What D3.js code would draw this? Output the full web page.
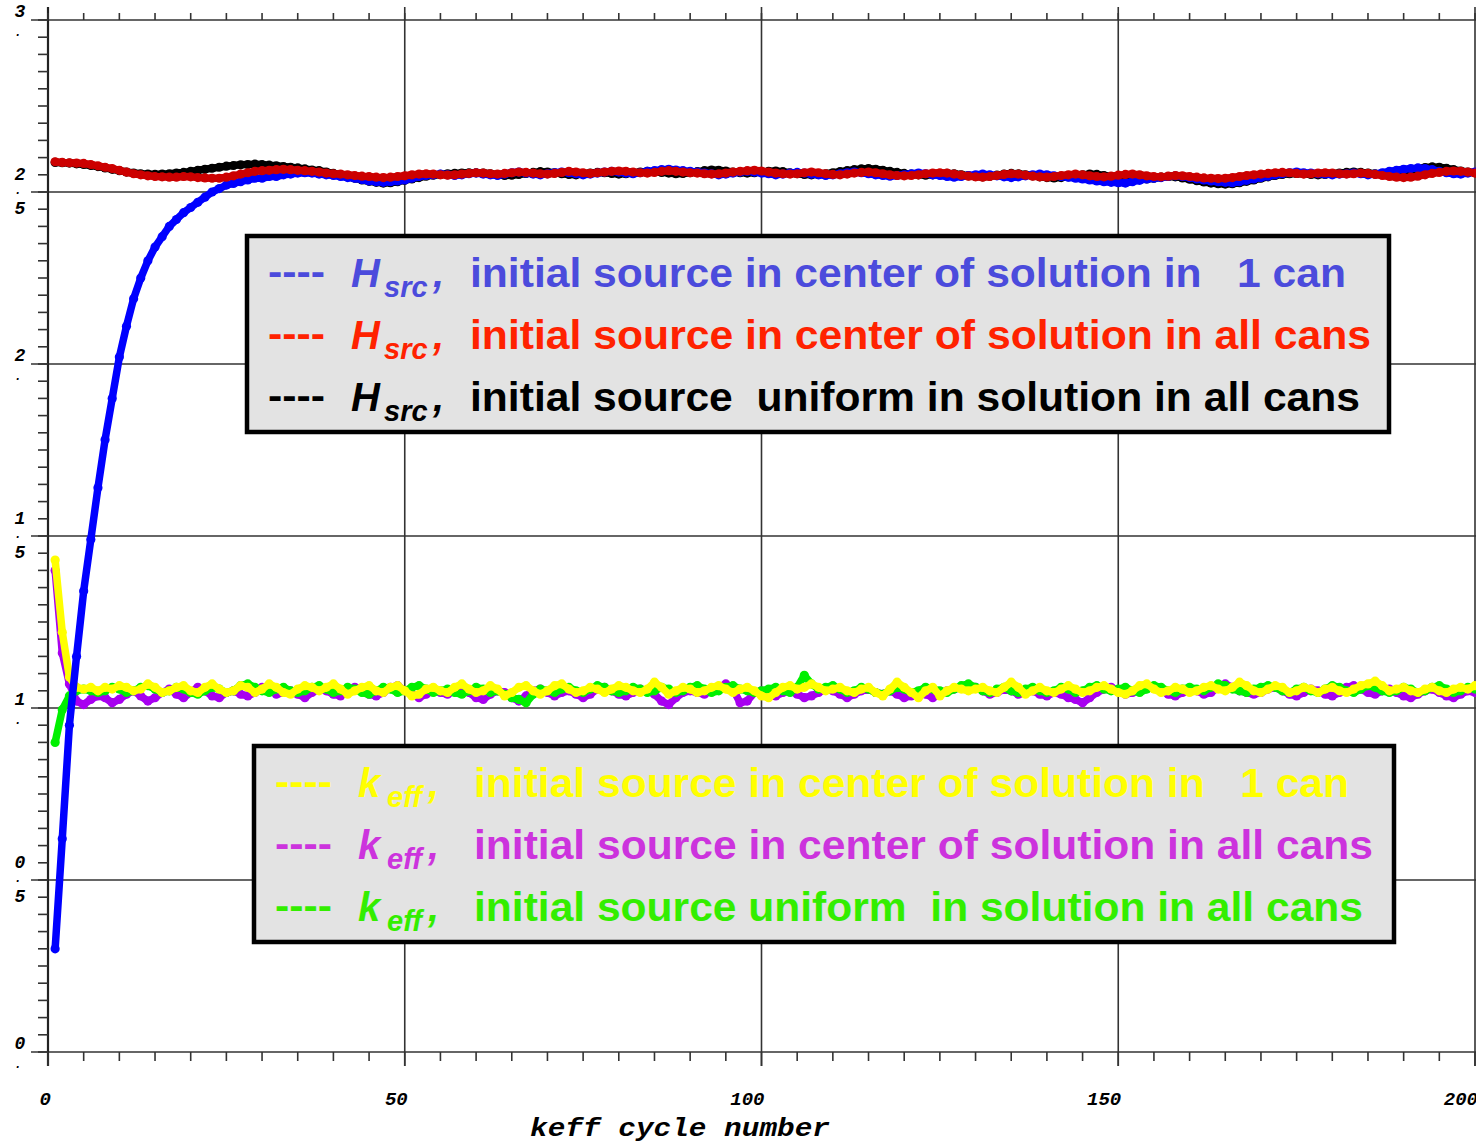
<!DOCTYPE html>
<html>
<head>
<meta charset="utf-8">
<script src="https://cdn.jsdelivr.net/npm/d3@7"></script>
<style>
  body { margin: 0; background: #fff; }
  svg text { white-space: pre; }
</style>
</head>
<body>
<div id="chart"></div>
<script>
// axis ticks
const yTicks = [0, 0.5, 1, 1.5, 2, 2.5, 3];
const yTickLabels = ["0.", "0.5", "1.", "1.5", "2.", "2.5", "3."];
const xTicks = [0, 50, 100, 150, 200];
const xTickLabels = ["0", "50", "100", "150", "200"];
const xTitle = "keff cycle number";

// Hsrc series, one value per keff cycle (cycle 1..200)
const hsrcOneCan = [
  0.30,0.62,0.95,1.15,1.34,1.49,1.64,1.78,1.90,2.02,
  2.11,2.19,2.25,2.30,2.34,2.37,2.40,2.42,2.44,2.455,
  2.47,2.485,2.50,2.51,2.52,2.525,2.53,2.535,2.54,2.54,
  2.545,2.545,2.55,2.552,2.555,2.556,2.555,2.552,2.55,2.548,
  2.545,2.542,2.54,2.536,2.532,2.53,2.528,2.53,2.532,2.535,
  2.54,2.545,2.548,2.55,2.552,2.55,2.548,2.55,2.553,2.555,
  2.552,2.55,2.548,2.552,2.556,2.558,2.555,2.552,2.55,2.553,
  2.556,2.558,2.556,2.553,2.55,2.552,2.555,2.558,2.56,2.558,
  2.555,2.553,2.556,2.56,2.562,2.565,2.566,2.564,2.562,2.56,
  2.558,2.555,2.553,2.55,2.552,2.555,2.558,2.56,2.558,2.555,
  2.553,2.55,2.552,2.555,2.557,2.555,2.552,2.55,2.548,2.55,
  2.553,2.556,2.558,2.556,2.553,2.55,2.548,2.546,2.548,2.55,
  2.553,2.555,2.553,2.55,2.548,2.545,2.543,2.545,2.548,2.55,
  2.552,2.55,2.547,2.544,2.542,2.544,2.547,2.55,2.552,2.55,
  2.547,2.545,2.543,2.54,2.538,2.535,2.532,2.53,2.528,2.527,
  2.526,2.53,2.534,2.538,2.54,2.542,2.545,2.547,2.545,2.542,
  2.538,2.535,2.532,2.53,2.528,2.527,2.53,2.534,2.538,2.542,
  2.546,2.55,2.553,2.556,2.558,2.556,2.555,2.553,2.552,2.55,
  2.552,2.553,2.555,2.553,2.55,2.552,2.556,2.56,2.563,2.566,
  2.568,2.57,2.568,2.565,2.56,2.556,2.553,2.552,2.555,2.558
];
const hsrcAllCans = [
  2.588,2.586,2.585,2.584,2.583,2.58,2.576,2.572,2.568,2.563,
  2.558,2.553,2.55,2.547,2.545,2.544,2.543,2.543,2.545,2.544,
  2.542,2.541,2.54,2.54,2.543,2.547,2.552,2.556,2.56,2.562,
  2.563,2.565,2.566,2.565,2.563,2.562,2.56,2.558,2.555,2.553,
  2.552,2.55,2.548,2.546,2.545,2.543,2.542,2.543,2.545,2.547,
  2.55,2.552,2.553,2.552,2.55,2.549,2.55,2.552,2.554,2.556,
  2.555,2.553,2.552,2.554,2.556,2.558,2.557,2.555,2.553,2.552,
  2.554,2.557,2.56,2.558,2.556,2.554,2.556,2.558,2.56,2.561,
  2.56,2.558,2.556,2.555,2.557,2.56,2.562,2.56,2.558,2.556,
  2.555,2.553,2.552,2.553,2.555,2.558,2.56,2.562,2.563,2.561,
  2.558,2.555,2.553,2.552,2.553,2.556,2.558,2.556,2.553,2.551,
  2.55,2.552,2.555,2.557,2.558,2.556,2.553,2.55,2.548,2.547,
  2.548,2.55,2.553,2.555,2.556,2.555,2.552,2.549,2.546,2.544,
  2.543,2.545,2.548,2.551,2.553,2.552,2.549,2.546,2.544,2.543,
  2.545,2.548,2.55,2.552,2.55,2.547,2.545,2.544,2.546,2.549,
  2.551,2.552,2.55,2.547,2.545,2.544,2.546,2.548,2.547,2.545,
  2.543,2.541,2.54,2.539,2.54,2.542,2.545,2.548,2.55,2.552,
  2.554,2.556,2.557,2.556,2.554,2.552,2.553,2.555,2.556,2.555,
  2.553,2.552,2.553,2.555,2.554,2.551,2.548,2.545,2.543,2.542,
  2.543,2.546,2.55,2.554,2.557,2.56,2.561,2.56,2.558,2.555
];
const hsrcUniform = [
  2.586,2.585,2.584,2.582,2.58,2.577,2.574,2.57,2.566,2.562,
  2.558,2.555,2.553,2.552,2.551,2.552,2.553,2.555,2.557,2.56,
  2.563,2.566,2.569,2.572,2.575,2.577,2.579,2.58,2.581,2.58,
  2.578,2.576,2.574,2.572,2.57,2.567,2.564,2.562,2.558,2.554,
  2.55,2.545,2.54,2.535,2.531,2.528,2.526,2.527,2.53,2.534,
  2.538,2.542,2.546,2.549,2.551,2.553,2.554,2.555,2.556,2.556,
  2.555,2.553,2.55,2.548,2.549,2.551,2.554,2.557,2.559,2.558,
  2.556,2.553,2.551,2.55,2.552,2.555,2.557,2.556,2.554,2.552,
  2.553,2.555,2.558,2.56,2.559,2.557,2.555,2.553,2.554,2.556,
  2.559,2.562,2.564,2.563,2.561,2.558,2.556,2.555,2.556,2.558,
  2.56,2.561,2.559,2.556,2.553,2.551,2.55,2.551,2.553,2.556,
  2.559,2.562,2.565,2.567,2.568,2.566,2.563,2.56,2.557,2.554,
  2.552,2.55,2.549,2.55,2.552,2.554,2.553,2.55,2.547,2.545,
  2.544,2.546,2.549,2.552,2.554,2.553,2.55,2.547,2.544,2.542,
  2.541,2.542,2.544,2.547,2.55,2.552,2.551,2.548,2.545,2.542,
  2.54,2.538,2.537,2.538,2.54,2.543,2.545,2.544,2.541,2.537,
  2.533,2.529,2.526,2.524,2.523,2.524,2.527,2.531,2.535,2.54,
  2.544,2.548,2.551,2.553,2.554,2.553,2.551,2.55,2.551,2.553,
  2.555,2.557,2.558,2.557,2.555,2.553,2.552,2.553,2.556,2.56,
  2.564,2.568,2.571,2.573,2.572,2.569,2.565,2.561,2.558,2.556
];

// keff series, one value per keff cycle (cycle 1..200)
const keffOneCan = [
  1.43,1.22,1.09,1.06,1.055,1.06,1.05,1.06,1.055,1.065,
  1.06,1.05,1.055,1.07,1.06,1.045,1.05,1.06,1.065,1.05,
  1.045,1.06,1.07,1.055,1.045,1.05,1.065,1.06,1.045,1.055,
  1.07,1.06,1.045,1.04,1.055,1.065,1.06,1.05,1.06,1.07,
  1.055,1.04,1.05,1.06,1.065,1.05,1.045,1.06,1.065,1.05,
  1.035,1.04,1.055,1.06,1.05,1.045,1.06,1.07,1.055,1.045,
  1.05,1.065,1.055,1.035,1.045,1.06,1.065,1.05,1.04,1.05,
  1.065,1.07,1.055,1.045,1.05,1.06,1.055,1.045,1.055,1.065,
  1.06,1.05,1.045,1.055,1.075,1.06,1.04,1.05,1.06,1.055,
  1.045,1.05,1.06,1.065,1.055,1.045,1.055,1.06,1.05,1.035,
  1.03,1.045,1.06,1.065,1.055,1.06,1.07,1.06,1.05,1.055,
  1.06,1.05,1.045,1.055,1.06,1.045,1.035,1.055,1.075,1.06,
  1.045,1.03,1.05,1.06,1.035,1.05,1.06,1.055,1.05,1.055,
  1.06,1.05,1.045,1.06,1.075,1.06,1.04,1.05,1.06,1.05,
  1.045,1.055,1.065,1.055,1.045,1.05,1.06,1.065,1.055,1.045,
  1.04,1.05,1.065,1.07,1.055,1.045,1.05,1.06,1.055,1.045,
  1.05,1.06,1.065,1.055,1.05,1.06,1.075,1.065,1.05,1.045,
  1.055,1.065,1.06,1.045,1.05,1.06,1.055,1.045,1.055,1.06,
  1.05,1.045,1.055,1.065,1.07,1.078,1.065,1.05,1.055,1.06,
  1.05,1.045,1.055,1.06,1.05,1.045,1.055,1.06,1.055,1.065
];
const keffAllCans = [
  1.40,1.16,1.07,1.02,1.01,1.025,1.035,1.03,1.015,1.025,
  1.04,1.05,1.035,1.02,1.03,1.045,1.055,1.04,1.03,1.045,
  1.06,1.05,1.035,1.03,1.045,1.05,1.04,1.035,1.045,1.06,
  1.055,1.04,1.045,1.05,1.04,1.03,1.045,1.055,1.05,1.04,
  1.035,1.05,1.06,1.055,1.04,1.035,1.045,1.06,1.065,1.05,
  1.04,1.03,1.04,1.05,1.045,1.04,1.05,1.055,1.045,1.03,
  1.025,1.04,1.05,1.045,1.03,1.02,1.035,1.05,1.055,1.045,
  1.035,1.045,1.05,1.04,1.03,1.04,1.055,1.06,1.05,1.04,
  1.035,1.045,1.055,1.05,1.04,1.02,1.01,1.03,1.045,1.05,
  1.045,1.04,1.05,1.06,1.07,1.055,1.015,1.02,1.045,1.05,
  1.04,1.035,1.045,1.05,1.04,1.03,1.035,1.045,1.055,1.05,
  1.04,1.03,1.04,1.05,1.055,1.045,1.04,1.05,1.04,1.03,
  1.035,1.045,1.04,1.03,1.04,1.05,1.055,1.06,1.065,1.06,
  1.05,1.04,1.045,1.055,1.05,1.04,1.045,1.05,1.04,1.035,
  1.045,1.04,1.03,1.025,1.015,1.03,1.045,1.055,1.06,1.05,
  1.04,1.045,1.055,1.065,1.06,1.05,1.04,1.035,1.045,1.055,
  1.05,1.04,1.045,1.06,1.07,1.06,1.05,1.045,1.04,1.045,
  1.055,1.06,1.05,1.04,1.035,1.045,1.055,1.05,1.04,1.035,
  1.045,1.06,1.065,1.055,1.045,1.04,1.05,1.055,1.045,1.035,
  1.03,1.04,1.05,1.055,1.045,1.035,1.03,1.04,1.05,1.045
];
const keffUniform = [
  0.90,0.995,1.035,1.05,1.055,1.05,1.045,1.05,1.06,1.055,
  1.045,1.05,1.06,1.065,1.055,1.045,1.05,1.06,1.055,1.045,
  1.04,1.05,1.06,1.055,1.045,1.05,1.065,1.07,1.06,1.05,
  1.045,1.055,1.06,1.05,1.045,1.05,1.06,1.065,1.055,1.045,
  1.05,1.06,1.055,1.045,1.04,1.05,1.06,1.055,1.045,1.05,
  1.06,1.065,1.055,1.045,1.05,1.055,1.045,1.04,1.05,1.06,
  1.055,1.045,1.05,1.04,1.03,1.025,1.015,1.04,1.055,1.05,
  1.045,1.055,1.06,1.05,1.045,1.055,1.065,1.06,1.05,1.045,
  1.05,1.06,1.055,1.045,1.05,1.06,1.055,1.045,1.05,1.06,
  1.065,1.055,1.045,1.05,1.06,1.065,1.055,1.05,1.045,1.05,
  1.055,1.06,1.05,1.045,1.06,1.095,1.07,1.055,1.06,1.065,
  1.055,1.045,1.05,1.06,1.055,1.045,1.04,1.05,1.06,1.055,
  1.045,1.05,1.06,1.055,1.05,1.045,1.055,1.065,1.07,1.06,
  1.05,1.045,1.055,1.06,1.05,1.045,1.055,1.06,1.05,1.045,
  1.05,1.06,1.055,1.045,1.05,1.06,1.065,1.055,1.05,1.055,
  1.06,1.05,1.045,1.055,1.065,1.06,1.05,1.045,1.055,1.06,
  1.055,1.05,1.06,1.07,1.065,1.055,1.05,1.045,1.055,1.06,
  1.065,1.06,1.05,1.045,1.055,1.06,1.05,1.045,1.055,1.065,
  1.06,1.05,1.045,1.055,1.065,1.06,1.05,1.045,1.05,1.06,
  1.055,1.045,1.05,1.06,1.065,1.055,1.045,1.05,1.06,1.055
];

// drawing order: bottom to top
const series = [
  { name: "keffAllCans", values: keffAllCans, color: "#a800f0" },
  { name: "keffUniform", values: keffUniform, color: "#00f000" },
  { name: "keffOneCan",  values: keffOneCan,  color: "#ffff00" },
  { name: "hsrcUniform", values: hsrcUniform, color: "#000000" },
  { name: "hsrcOneCan",  values: hsrcOneCan,  color: "#0000ff" },
  { name: "hsrcAllCans", values: hsrcAllCans, color: "#cc0000" }
];

const legendH = [
  { sym: "H", sub: "src", text: "initial source in center of solution in   1 can",   color: "#4b4bdc", w: 876 },
  { sym: "H", sub: "src", text: "initial source in center of solution in all cans",  color: "#ff2200", w: 901 },
  { sym: "H", sub: "src", text: "initial source  uniform in solution in all cans",   color: "#000000", w: 890 }
];
const legendK = [
  { sym: "k", sub: "eff", text: "initial source in center of solution in   1 can",   color: "#ffff00", w: 875 },
  { sym: "k", sub: "eff", text: "initial source in center of solution in all cans",  color: "#cc33dd", w: 899 },
  { sym: "k", sub: "eff", text: "initial source uniform  in solution in all cans",   color: "#33ee00", w: 889 }
];

const W = 1476, H = 1145;
const svg = d3.select("#chart").append("svg")
  .attr("width", W).attr("height", H)
  .style("display", "block");

svg.append("rect").attr("width", W).attr("height", H).attr("fill", "#fff");

const x = d3.scaleLinear().domain([0, 200]).range([48, 1475]);
const y = d3.scaleLinear().domain([0, 3]).range([1052, 20]);

const axisFont = "'Liberation Mono', 'DejaVu Sans Mono', monospace";

// horizontal grid
svg.append("g").selectAll("line").data(yTicks).enter().append("line")
  .attr("x1", 31).attr("x2", W)
  .attr("y1", d => y(d)).attr("y2", d => y(d))
  .attr("stroke", "#333").attr("stroke-width", 1.6);

// vertical grid
svg.append("g").selectAll("line").data(xTicks.slice(1)).enter().append("line")
  .attr("x1", d => x(d)).attr("x2", d => x(d))
  .attr("y1", 7).attr("y2", 1066)
  .attr("stroke", "#333").attr("stroke-width", 1.6);

// left axis line
svg.append("line").attr("x1", 48).attr("x2", 48).attr("y1", 7).attr("y2", 1066)
  .attr("stroke", "#222").attr("stroke-width", 2.2);

// y minor ticks
const yMinor = d3.range(0, 61).map(i => i * 0.05);
svg.append("g").selectAll("line").data(yMinor).enter().append("line")
  .attr("x1", 38).attr("x2", 48)
  .attr("y1", d => y(d)).attr("y2", d => y(d))
  .attr("stroke", "#333").attr("stroke-width", 1.6);

// x ticks bottom & top
const xMinor = d3.range(0, 41).map(i => i * 5);
svg.append("g").selectAll("line").data(xMinor).enter().append("line")
  .attr("x1", d => x(d)).attr("x2", d => x(d))
  .attr("y1", y(0)).attr("y2", d => y(0) + (d % 50 === 0 ? 14 : 9))
  .attr("stroke", "#333").attr("stroke-width", 1.6);
svg.append("g").selectAll("line").data(xMinor).enter().append("line")
  .attr("x1", d => x(d)).attr("x2", d => x(d))
  .attr("y1", y(3)).attr("y2", y(3) - 7)
  .attr("stroke", "#333").attr("stroke-width", 1.6);

// y labels: characters stacked vertically, the dot set smaller
yTicks.forEach((t, i) => {
  const chars = yTickLabels[i].split("");
  const offs = chars.length === 2 ? [-3, 16] : [-12, 2, 22];
  chars.forEach((c, j) => {
    svg.append("text")
      .attr("x", c === "." ? 18 : 20)
      .attr("y", y(t) + offs[j])
      .attr("text-anchor", "middle")
      .style("font-family", axisFont)
      .style("font-weight", "bold").style("font-style", "italic")
      .style("font-size", c === "." ? "12px" : "18px")
      .text(c);
  });
});

// x labels
svg.append("g").selectAll("text").data(xTicks).enter().append("text")
  .attr("x", d => x(d) + 3)
  .attr("y", 1105)
  .attr("text-anchor", "end")
  .style("font-family", axisFont)
  .style("font-weight", "bold").style("font-style", "italic")
  .style("font-size", "19px")
  .text((d, i) => xTickLabels[i]);

svg.append("text")
  .attr("x", 530).attr("y", 1136)
  .attr("textLength", 300).attr("lengthAdjust", "spacingAndGlyphs")
  .style("font-family", axisFont)
  .style("font-weight", "bold").style("font-style", "italic")
  .style("font-size", "25px")
  .text(xTitle);

// data lines
const line = d3.line()
  .x((d, i) => x(i + 1))
  .y(d => y(d));

series.forEach(s => {
  const g = svg.append("g");
  g.append("path")
    .datum(s.values)
    .attr("fill", "none")
    .attr("stroke", s.color)
    .attr("stroke-width", 7.5)
    .attr("stroke-linejoin", "round")
    .attr("stroke-linecap", "round")
    .attr("d", line);
  g.selectAll("circle").data(s.values).enter().append("circle")
    .attr("cx", (d, i) => x(i + 1))
    .attr("cy", d => y(d))
    .attr("r", 4.6)
    .attr("fill", s.color);
});

// legend boxes
function drawLegend(rows, bx, by, bw, bh, baseY, dashX, symX, subX, commaX, textX) {
  svg.append("rect")
    .attr("x", bx).attr("y", by).attr("width", bw).attr("height", bh)
    .attr("fill", "#e3e3e3").attr("stroke", "#000").attr("stroke-width", 4.5);
  rows.forEach((r, i) => {
    const yy = baseY + i * 62;
    const g = svg.append("g").attr("fill", r.color)
      .style("font-family", "'Liberation Sans', Arial, Helvetica, sans-serif")
      .style("font-weight", "bold");
    g.append("text").attr("x", dashX).attr("y", yy - 2)
      .attr("textLength", 57).attr("lengthAdjust", "spacingAndGlyphs")
      .style("font-size", "41px").text("----");
    g.append("text").attr("x", symX).attr("y", yy)
      .style("font-size", "40px").style("font-style", "italic").text(r.sym);
    g.append("text").attr("x", subX).attr("y", yy + 10)
      .style("font-size", "29px").style("font-style", "italic").text(r.sub);
    g.append("text").attr("x", commaX).attr("y", yy)
      .style("font-size", "40px").style("font-style", "italic").text(",");
    g.append("text").attr("x", textX).attr("y", yy)
      .attr("textLength", r.w).attr("lengthAdjust", "spacingAndGlyphs")
      .style("font-size", "41px").text(r.text);
  });
}

drawLegend(legendH, 247, 236, 1142, 196, 287, 268, 351, 384, 433, 470);
drawLegend(legendK, 254, 746, 1140, 196, 797, 275, 358, 387, 428, 474);
</script>
</body>
</html>
